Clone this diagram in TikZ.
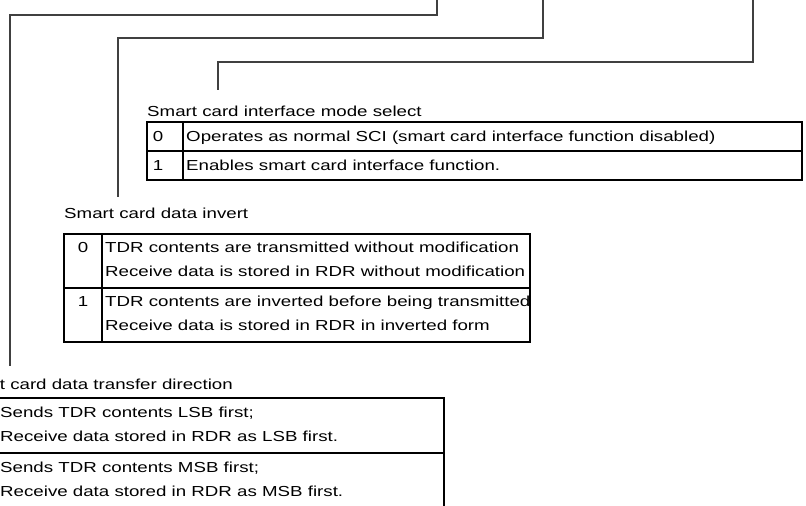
\documentclass[tikz,border=0pt]{standalone}
\usepackage{fontspec}
\setmainfont{Liberation Sans}[FakeStretch=1.29]
\begin{document}
\begin{tikzpicture}[x=1pt,y=-1pt,
  conn/.style={draw=black!75, line width=1.3pt},
  tbl/.style={draw=black, line width=1.3pt},
  txt/.style={anchor=base west, inner sep=0pt, font=\fontsize{14.5}{16}\selectfont},
  num/.style={anchor=base, inner sep=0pt, font=\fontsize{14.5}{16}\selectfont}]
\useasboundingbox (0,0) rectangle (806,506);
\clip (0,0) rectangle (806,506);

% connectors
\coordinate (topA) at (437,0);
\coordinate (kneeA) at (10,15);
\coordinate (endA) at (10,366);
\coordinate (topB) at (543,0);
\coordinate (kneeB) at (118,38);
\coordinate (endB) at (118,197);
\coordinate (topC) at (753,0);
\coordinate (kneeC) at (218,62);
\coordinate (endC) at (218,90);
\draw[conn] (topA) |- (kneeA) -- (endA);
\draw[conn] (topB) |- (kneeB) -- (endB);
\draw[conn] (topC) |- (kneeC) -- (endC);

% table 1
\node[txt] (lab1) at (147,116) {Smart card interface mode select};
\draw[tbl] (147,122) rectangle (802,180);
\draw[tbl] (147,151) -- (802,151);
\draw[tbl] (183,122) -- (183,180);
\node[num] (t1n0) at (158,141.5) {0};
\node[txt] (t1r0) at (186,141.5) {Operates as normal SCI (smart card interface function disabled)};
\node[num] (t1n1) at (158,170.5) {1};
\node[txt] (t1r1) at (186,170.5) {Enables smart card interface function.};

% table 2
\node[txt] (lab2) at (64,218) {Smart card data invert};
\draw[tbl] (64,234) rectangle (530,342);
\draw[tbl] (64,288) -- (530,288);
\draw[tbl] (102,234) -- (102,342);
\node[num] (t2n0) at (83,252) {0};
\node[txt] (t2r0a) at (105,252) {TDR contents are transmitted without modification};
\node[txt] (t2r0b) at (105,276) {Receive data is stored in RDR without modification};
\node[num] (t2n1) at (83,306) {1};
\node[txt] (t2r1a) at (105,306) {TDR contents are inverted before being transmitted};
\node[txt] (t2r1b) at (105,330) {Receive data is stored in RDR in inverted form};

% table 3 (its left part lies outside the frame)
\node[txt] (lab3) at (-45,389) {Smart card data transfer direction};
\draw[tbl] (-45,398) rectangle (444,530);
\draw[tbl] (-45,453) -- (444,453);
\draw[tbl] (-5,398) -- (-5,530);
\node[txt] (t3r0a) at (0,417) {Sends TDR contents LSB first;};
\node[txt] (t3r0b) at (0,441) {Receive data stored in RDR as LSB first.};
\node[txt] (t3r1a) at (0,472) {Sends TDR contents MSB first;};
\node[txt] (t3r1b) at (0,496) {Receive data stored in RDR as MSB first.};
\end{tikzpicture}
\end{document}
